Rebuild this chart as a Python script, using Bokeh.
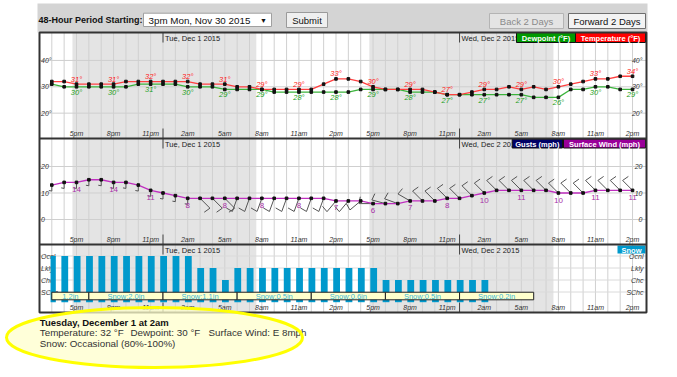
from bokeh.plotting import figure
from bokeh.models import Range1d
from bokeh.embed import file_html
from bokeh.resources import INLINE
from bokeh.core.properties import value
import math

# ---------------- data ----------------
hours = list(range(48))                      # hours after 3pm Mon Nov 30 2015
tick_hours = list(range(2, 48, 3))
tick_labels = ["5pm", "8pm", "11pm", "2am", "5am", "8am", "11am", "2pm",
               "5pm", "8pm", "11pm", "2am", "5am", "8am", "11am", "2pm"]
midnight_hours = [9, 33]
day_labels = ["Tue, Dec 1 2015", "Wed, Dec 2 2015"]
night_start = [1.67, 25.7]
night_end = [16.55, 40.6]

temperature = [32, 32, 31, 31, 31, 31, 32, 32, 32, 32, 32, 32, 31, 31, 31, 30, 30, 29, 29, 29, 29, 29, 31, 33,
               33, 32, 30, 29, 29, 29, 29, 28, 27, 27, 28, 29, 29, 30, 29, 30, 29, 30, 31, 32, 33, 33, 34, 34]
dewpoint = [31, 30, 30, 30, 30, 30, 30, 31, 31, 31, 31, 30, 30, 30, 29, 29, 29, 29, 28, 28, 28, 28, 28, 28,
            28, 29, 29, 29, 29, 28, 28, 28, 27, 27, 27, 27, 27, 27, 27, 26, 26, 26, 29, 29, 30, 30, 29, 29]
wind_speed = [13, 14, 14, 15, 15, 14, 14, 13, 11, 10, 9, 8, 8, 8, 8, 8, 8, 8, 8, 8, 8, 8, 8, 7,
              7, 7, 6, 6, 6, 7, 7, 7, 8, 8, 9, 10, 11, 11, 11, 11, 11, 10, 10, 10, 11, 11, 11, 11]
wind_dir = [180] * 12 + [135] * 3 + [200] * 8 + [220, 220, 230, 270, 285, 290, 300] + [315] * 18
snow_level_names = ["SChc", "Chc", "Lkly", "Ocnl"]
snow_level_values = [1, 2, 3, 4]
snow_chance = [4] * 12 + [3, 3, 2] + [3] * 12 + [2] * 9 + [0] * 12
snow_period_start = [-3, 3, 9, 15, 21, 27, 33]
snow_period_end = [3, 9, 15, 21, 27, 33, 39]
snow_amount = [1.2, 2.0, 1.1, 0.5, 0.6, 0.5, 0.2]
temp_ticks = [20, 30, 40]
wind_ticks = [0, 10, 20]

period_text = "3pm Mon, Nov 30 2015"
info_hour = 11
info_title = "Tuesday, December 1 at 2am"
info_wind_dir = "E"
info_snow = "Occasional (80%-100%)"

# ---------------- layout ----------------
W, H = 677, 377
X0, Y0 = 0, 0
H0_PX, PX_PER_H = 51.3, 12.356
T30_PX, PX_PER_DEG = 86.3, 2.635
W0_PX, PX_PER_MPH = 219.0, 2.65
S0_PX, PX_PER_LVL = 303.5, 12.0
PL, PR = 39, 646
PT = [32, 138, 244]
PB = [138, 244, 312]
barb_px = [6] * 12 + [14] * 36
FONT = value("Liberation Sans")

p = figure(width=W, height=H, x_range=Range1d(X0, X0 + W), y_range=Range1d(Y0 + H, Y0),
           output_backend="svg", toolbar_location=None, min_border=0,
           x_axis_location=None, y_axis_location=None)
p.outline_line_color = None
p.grid.visible = False
p.background_fill_color = "white"
p.border_fill_color = "white"

hr = Range1d((X0 - H0_PX) / PX_PER_H, (X0 + W - H0_PX) / PX_PER_H)
tr = Range1d(30 - (Y0 + H - T30_PX) / PX_PER_DEG, 30 + (T30_PX - Y0) / PX_PER_DEG)
wr = Range1d(-(Y0 + H - W0_PX) / PX_PER_MPH, (W0_PX - Y0) / PX_PER_MPH)
sr = Range1d(-(Y0 + H - S0_PX) / PX_PER_LVL, (S0_PX - Y0) / PX_PER_LVL)
p.extra_x_ranges = {"h": hr}
p.extra_y_ranges = {"temp": tr, "wind": wr, "snow": sr}
kx = W / (hr.end - hr.start)
kw = H / (wr.end - wr.start)


def txt(x, y, t, size, color="#222222", style="normal", align="left", baseline="middle",
        xr="default", yr="default", xo=0, yo=0):
    if not isinstance(x, list):
        x, y, t = [x], [y], [t]
    p.text(x=x, y=y, text=t, x_range_name=xr, y_range_name=yr, text_font=FONT,
           text_font_size=size, text_font_style=style, text_color=color,
           text_align=align, text_baseline=baseline, x_offset=xo, y_offset=yo)


# ---------------- header ----------------
p.quad(left=37, right=647, top=3, bottom=32, fill_color="#d4d4d4", line_color=None)
txt(38, 19.5, "48-Hour Period Starting:", "9px", color="#111111", style="bold")
p.quad(left=143, right=271, top=12.7, bottom=26, fill_color="white", line_color="#a0a0a0")
txt(148, 19.5, period_text, "9.8px", color="#111111")
txt(263, 19.5, "▼", "7px", color="#111111", align="center")
p.quad(left=286, right=327, top=12, bottom=27, fill_color="#efefef", line_color="#9a9a9a")
txt(306.5, 19.8, "Submit", "9.5px", color="#111111", align="center")
p.quad(left=489, right=563, top=13, bottom=28, fill_color="#e4e4e4", line_color="#b4b4b4")
txt(526, 20.5, "Back 2 Days", "9.5px", color="#8a8a8a", align="center")
p.quad(left=568, right=645, top=13, bottom=28, fill_color="#f3f3f3", line_color="#6e6e6e")
txt(606.5, 20.5, "Forward 2 Days", "9.5px", color="#111111", align="center")

# ---------------- panels background ----------------
p.quad(left=PL, right=PR, top=PT[0], bottom=PB[-1], fill_color="white", line_color=None)
p.quad(left=night_start, right=night_end, top=PT[0], bottom=PB[-1], x_range_name="h",
       fill_color="#e4e4e4", line_color=None)
p.segment(x0=hours, x1=hours, y0=PT[0], y1=PB[-1], x_range_name="h", line_color="#d0d0d0", line_width=1)
p.segment(x0=PL, x1=PR, y0=temp_ticks, y1=temp_ticks, y_range_name="temp", line_color="#cfcfcf")
p.segment(x0=PL, x1=PR, y0=wind_ticks, y1=wind_ticks, y_range_name="wind", line_color="#cfcfcf")
p.segment(x0=PL, x1=PR, y0=snow_level_values, y1=snow_level_values, y_range_name="snow",
          line_color="#dadada")

# midnight ticks, day labels, hour labels
for top, bot in zip(PT, PB):
    p.segment(x0=midnight_hours, x1=midnight_hours, y0=top, y1=top + 10, x_range_name="h",
              line_color="#444444")
    p.segment(x0=midnight_hours, x1=midnight_hours, y0=bot - 10, y1=bot, x_range_name="h",
              line_color="#444444")
    txt(midnight_hours, [top + 5.5] * 2, day_labels, "7.5px", xr="h", xo=2)
    txt(tick_hours, [bot - 4.8] * len(tick_hours), tick_labels, "7px", color="#333333",
        style="italic", align="center", xr="h")

# y labels
tl = ["%d°" % v for v in temp_ticks]
txt([PL + 1.5] * 3, temp_ticks, tl, "7px", color="#333333", style="italic", yr="temp")
txt([PR - 4] * 3, temp_ticks, tl, "7px", color="#333333", style="italic", align="right", yr="temp")
wl = ["%d" % v for v in wind_ticks]
txt([PL + 1.5] * 3, wind_ticks, wl, "7px", color="#333333", style="italic", yr="wind")
txt([PR - 4] * 3, wind_ticks, wl, "7px", color="#333333", style="italic", align="right", yr="wind")
txt([PL + 1.5] * 4, snow_level_values, snow_level_names, "7px", color="#333333", style="italic", yr="snow")
txt([PR - 3] * 4, snow_level_values, snow_level_names, "7px", color="#333333", style="italic",
    align="right", yr="snow")

# ---------------- temperature panel ----------------
p.line(hours, dewpoint, x_range_name="h", y_range_name="temp", line_color="#3cb43c", line_width=1.3)
p.line(hours, temperature, x_range_name="h", y_range_name="temp", line_color="#ff4040", line_width=1.3)
p.scatter(hours, dewpoint, x_range_name="h", y_range_name="temp", marker="square", size=2.6,
          color="#111111")
p.scatter(hours, temperature, x_range_name="h", y_range_name="temp", marker="square", size=2.6,
          color="#111111")
txt(tick_hours, [temperature[h] for h in tick_hours], ["%d°" % temperature[h] for h in tick_hours],
    "7.5px", color="#ff2020", style="italic", align="center", xr="h", yr="temp", yo=-5)
txt(tick_hours, [dewpoint[h] for h in tick_hours], ["%d°" % dewpoint[h] for h in tick_hours],
    "7.5px", color="#22a022", style="italic", align="center", xr="h", yr="temp", yo=5.5)

# ---------------- wind panel ----------------
bx0, by0, bx1, by1, tx1, ty1 = [], [], [], [], [], []
for h, s, d, L in zip(hours, wind_speed, wind_dir, barb_px):
    a = math.radians(d - 90)
    ex = h + L * math.cos(a) / kx
    ey = s - L * math.sin(a) / kw
    b = a + math.radians(100)
    bx0.append(h); by0.append(s); bx1.append(ex); by1.append(ey)
    tx1.append(ex + L / 2 * math.cos(b) / kx); ty1.append(ey - L / 2 * math.sin(b) / kw)
p.segment(x0=bx0, y0=by0, x1=bx1, y1=by1, x_range_name="h", y_range_name="wind",
          line_color="#555555", line_width=1)
p.segment(x0=bx1, y0=by1, x1=tx1, y1=ty1, x_range_name="h", y_range_name="wind",
          line_color="#555555", line_width=1)
p.line(hours, wind_speed, x_range_name="h", y_range_name="wind", line_color="#c030c0", line_width=1.3)
p.scatter(hours, wind_speed, x_range_name="h", y_range_name="wind", marker="square", size=2.6,
          color="#111111")
txt(tick_hours, [wind_speed[h] for h in tick_hours], ["%d" % wind_speed[h] for h in tick_hours],
    "8px", color="#a830a8", align="center", xr="h", yr="wind", yo=7)

# ---------------- snow panel ----------------
sh = [h for h in hours if snow_chance[h] > 0]
sl = [max(h - 0.225, -0.1) for h in sh]
srt = [h + 0.325 for h in sh]
p.quad(left=sl, right=srt, top=[snow_chance[h] for h in sh], bottom=0.15, x_range_name="h",
       y_range_name="snow", fill_color="#0099cc", line_color=None)
bl = [max(s, 0) for s in snow_period_start]
p.quad(left=bl, right=snow_period_end, top=0.98, bottom=0.35, x_range_name="h", y_range_name="snow",
       fill_color="#ffffcc", line_color="#222222", line_width=1)
slabels = [("Snow:%.1fin" % a) if s >= 0 else ("%.1fin" % a) for s, a in zip(snow_period_start, snow_amount)]
txt([(l + r) / 2 for l, r in zip(bl, snow_period_end)], [0.665] * len(bl), slabels, "7.5px",
    color="#3ab8d8", align="center", xr="h", yr="snow")

# ---------------- legends ----------------
legends = [("Dewpoint (°F)", "#009900", 516, 575, 32, 42),
           ("Temperature (°F)", "#ff0000", 575, 645, 32, 42),
           ("Gusts (mph)", "#000066", 511.7, 562, 138.5, 147.5),
           ("Surface Wind (mph)", "#990099", 563, 645, 138.5, 147.5),
           ("Snow", "#0099cc", 617, 645, 245, 253)]
for t, c, l, r, tp, bt in legends:
    p.quad(left=l, right=r, top=tp, bottom=bt, fill_color=c, line_color="#111111" if c != "#0099cc" else None)
    txt((l + r) / 2, (tp + bt) / 2 + 0.5, t, "7.5px", color="white", style="bold", align="center")

# borders
p.quad(left=PL, right=PR, top=PT[0], bottom=PB[-1], fill_color=None, line_color="#333333", line_width=2)
p.segment(x0=PL, x1=PR, y0=PB[:-1], y1=PB[:-1], line_color="#333333", line_width=2)

# ---------------- info ----------------
p.ellipse(x=154, y=337, width=296, height=60, fill_color="#ffffcc", fill_alpha=0.75, line_color=None)
txt(39.3, 321.7, info_title, "9.5px", color="#111111", style="bold")
txt(39.3, 332.2, "Temperature: %d °F" % temperature[info_hour], "9.8px", color="#333333")
txt(130, 332.2, "Dewpoint: %d °F" % dewpoint[info_hour], "9.8px", color="#333333")
txt(208, 332.2, "Surface Wind: %s %dmph" % (info_wind_dir, wind_speed[info_hour]), "9.8px", color="#333333")
txt(39.3, 342.8, "Snow: " + info_snow, "9.8px", color="#333333")
p.ellipse(x=154, y=337, width=296, height=60, fill_color=None, line_color="#ffff00", line_width=3)

open("out.html", "w").write(file_html(p, INLINE))
